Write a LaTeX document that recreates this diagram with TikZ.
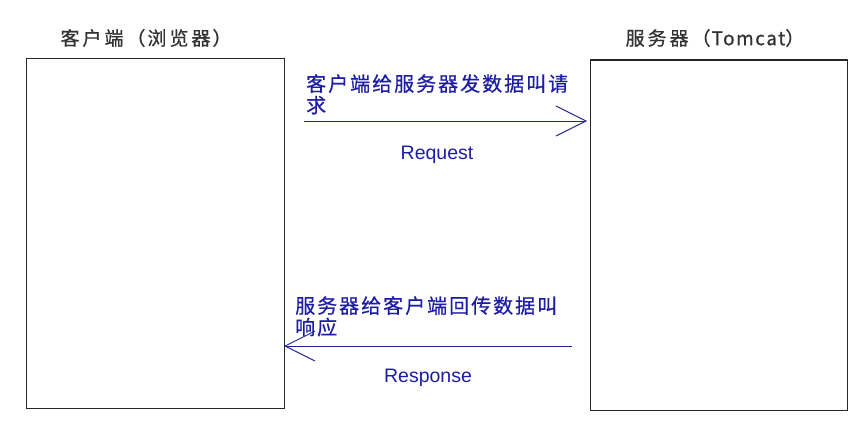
\documentclass[tikz,border=0pt]{standalone}
\usepackage{fontspec}
\newfontfamily\cjk{Noto Sans CJK SC}
\newfontfamily\lat{Liberation Sans}
\usetikzlibrary{arrows.meta}
\definecolor{inkblue}{RGB}{30,30,165}
\definecolor{arrowblue}{RGB}{35,35,150}
\tikzset{
  box/.style={draw=black!85, line width=1.3pt},
  title/.style={inner sep=0pt, font=\cjk\fontsize{19}{22}\selectfont\addfontfeature{FakeBold=0.6}, text=black!80},
  bluelabel/.style={inner sep=0pt, align=left, text=inkblue, font=\cjk\fontsize{20}{21.5}\selectfont\addfontfeature{LetterSpace=10,FakeBold=0.6}},
  engl/.style={inner sep=0pt, text=inkblue, font=\lat\fontsize{19.5}{22}\selectfont},
  msg/.style={draw=arrowblue, line width=1pt, -{Straight Barb[length=30pt,width=30pt,line width=1pt]}}
}
\begin{document}
\begin{tikzpicture}[x=1pt,y=-1pt]
\useasboundingbox (0,0) rectangle (868,428);
\fill[white] (0,0) rectangle (868,428);
% boxes
\node[box, minimum width=258pt, minimum height=350pt, anchor=north west, inner sep=0pt] (client) at (26,58) {};
\node[box, minimum width=257pt, minimum height=350pt, anchor=north west, inner sep=0pt] (server) at (590,59.5) {};
% titles
\node[title] (ctitle) at (146,38) {客\hspace{3pt}户\hspace{3pt}端\hspace{3pt}（\hspace{2pt}浏\hspace{3pt}览\hspace{3pt}器\hspace{2pt}）};
\node[title] (stitle) at (715,38) {服\hspace{3pt}务\hspace{3pt}器\hspace{3pt}（\hspace{1pt}{\addfontfeature{LetterSpace=8}Tomcat}）};
% request
\coordinate (reqS) at (304,121);
\coordinate (reqE) at (587,121);
\draw[msg] (reqS) -- (reqE);
\node[bluelabel, anchor=north west] (reqtxt) at (306,74) {客户端给服务器发数据叫请\\求};
\node[engl] (reqen) at (437,155) {Request};
% response
\coordinate (resS) at (572,346);
\coordinate (resE) at (284,346);
\draw[msg] (resS) -- (resE);
\node[bluelabel, anchor=north west] (restxt) at (295,296) {服务器给客户端回传数据叫\\响应};
\node[engl] (resen) at (428,378) {Response};
\end{tikzpicture}
\end{document}
